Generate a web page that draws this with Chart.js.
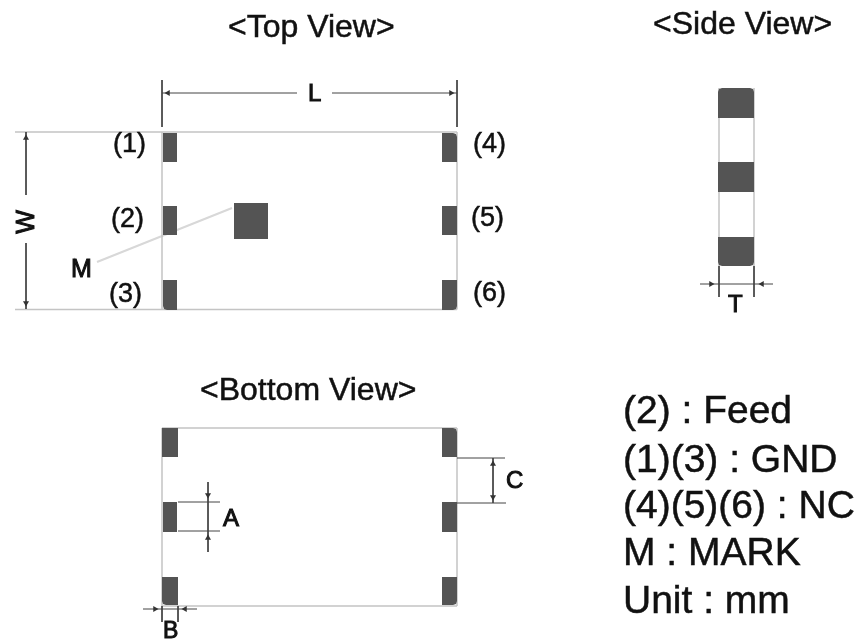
<!DOCTYPE html>
<html>
<head>
<meta charset="utf-8">
<title>Top, side and bottom view</title>
<script src="https://cdn.jsdelivr.net/npm/chart.js@4/dist/chart.umd.min.js"></script>
<style>
    html, body { margin: 0; padding: 0; background: #fff; }
    canvas { display: block; filter: blur(0.6px); }
</style>
</head>
<body>
<canvas id="drawing" width="860" height="641"></canvas>
<script>
// Outline of the parts: x1, y1, x2, y2
const outlineLines = [
    [15, 132, 457, 132], [15, 309.5, 457, 309.5], [162, 132, 162, 309.5], [457, 132, 457, 309.5],
    [162, 428, 457, 428], [162, 606, 457, 606], [162, 428, 162, 606], [457, 428, 457, 606],
    [719, 88, 719, 266], [754, 88, 754, 266]
];

// Dimension lines: x1, y1, x2, y2
const dimensionLines = [
    [162, 80, 162, 127], [457, 80, 457, 127], [162, 93, 297, 93], [332, 93, 457, 93],
    [26, 132, 26, 195], [26, 243, 26, 309],
    [178, 502, 220, 502], [178, 531, 220, 531], [208, 482, 208, 552],
    [457, 458, 505, 458], [457, 503, 506, 503], [493, 458, 493, 503],
    [143, 609, 197, 609], [162, 606, 162, 622], [178, 606, 178, 622],
    [719, 266, 719, 297], [754, 266, 754, 297], [700, 284, 773, 284]
];

const markLeader = [[97, 262, 232, 208]];

// Pads: x1, y1, x2, y2, rounded corners
const pads = [
    [163, 133, 177, 162, ''], [163, 206, 177, 235, ''], [163, 280, 177, 310, 'bl'],
    [442, 133, 457, 162, 'tr'], [442, 206, 457, 235, ''], [442, 280, 457, 310, 'br'],
    [234, 203, 268, 239, ''],
    [162, 428, 178, 457, ''], [163, 502, 177, 532, ''], [162, 577, 178, 605, 'bl'],
    [442, 428, 457, 457, 'tr'], [442, 502, 457, 532, ''], [442, 577, 457, 605, 'br'],
    [718, 88, 754, 118, 'tltr'], [718, 162, 754, 192, ''], [718, 237, 754, 266, 'blbr']
];

// Arrow heads: x, y, rotation
const arrowHeads = [
    [168, 93, -90], [451, 93, 90], [26, 138, 0], [26, 303, 180],
    [208, 495, 180], [208, 538, 0], [493, 464, 0], [493, 497, 180],
    [155, 609, 90], [185, 609, -90], [711, 284, 90], [762, 284, -90]
];

// Labels: text, left, baseline, font size
const titles = [
    ['<Top View>', 228, 37, 32], ['<Side View>', 653, 34, 32], ['<Bottom View>', 200, 400, 32]
];
const pinLabels = [
    ['(1)', 113, 152, 27], ['(2)', 111, 227, 27], ['(3)', 109, 302, 27],
    ['(4)', 473, 152, 27], ['(5)', 471, 226, 27], ['(6)', 473, 301, 27]
];
const dimensionLabels = [
    ['L', 308, 101, 24], ['M', 71, 277, 25], ['A', 223, 526, 24],
    ['C', 506, 488, 24], ['B', 163, 638, 23], ['T', 728, 312, 24]
];
const legendLines = [
    ['(2) : Feed', 623, 423, 39], ['(1)(3) : GND', 623, 472, 39], ['(4)(5)(6) : NC', 623, 518, 39],
    ['M : MARK', 623, 565, 39], ['Unit : mm', 623, 613, 39]
];
const rotatedLabels = [['W', 27, 222, 25]];

// Join segments into one dataset, a null point breaks the line
function segmentPoints(segments) {
    return segments.flatMap(s => [{x: s[0], y: s[1]}, {x: s[2], y: s[3]}, {x: s[2], y: null}]);
}

// Corner outline of a pad, cut a little where it is rounded
function padPoints(pad) {
    const [x1, y1, x2, y2, round] = pad;
    const c = 4;
    const points = [];
    if (round.includes('tl')) { points.push({x: x1, y: y1 + c}, {x: x1 + 1, y: y1 + 1}, {x: x1 + c, y: y1}); } else { points.push({x: x1, y: y1}); }
    if (round.includes('tr')) { points.push({x: x2 - c, y: y1}, {x: x2 - 1, y: y1 + 1}, {x: x2, y: y1 + c}); } else { points.push({x: x2, y: y1}); }
    if (round.includes('br')) { points.push({x: x2, y: y2 - c}, {x: x2 - 1, y: y2 - 1}, {x: x2 - c, y: y2}); } else { points.push({x: x2, y: y2}); }
    if (round.includes('bl')) { points.push({x: x1 + c, y: y2}, {x: x1 + 1, y: y2 - 1}, {x: x1, y: y2 - c}); } else { points.push({x: x1, y: y2}); }
    points.push(points[0]);
    return points;
}

function lineDataset(segments, color, width) {
    return {
        data: segmentPoints(segments),
        showLine: true,
        spanGaps: false,
        borderColor: color,
        borderWidth: width,
        pointRadius: 0
    };
}

const padDatasets = pads.map(pad => ({
    data: padPoints(pad),
    showLine: true,
    fill: 'shape',
    backgroundColor: '#545454',
    borderColor: '#545454',
    borderWidth: 0,
    pointRadius: 0
}));

const arrowDataset = {
    data: arrowHeads.map(a => ({x: a[0], y: a[1]})),
    showLine: false,
    pointStyle: 'triangle',
    pointRadius: 3.5,
    pointRotation: arrowHeads.map(a => a[2]),
    backgroundColor: '#333',
    borderColor: '#333',
    borderWidth: 0
};

// Writes the labels through the chart scales
const labelPlugin = {
    id: 'labelPlugin',
    afterDraw(chart) {
        const ctx = chart.ctx;
        const xScale = chart.scales.x;
        const yScale = chart.scales.y;
        const writeLabels = (labels, weight) => {
            ctx.lineWidth = weight;
            labels.forEach(item => {
                ctx.font = item[3] + 'px "Liberation Sans"';
                ctx.fillText(item[0], xScale.getPixelForValue(item[1]), yScale.getPixelForValue(item[2]));
                ctx.strokeText(item[0], xScale.getPixelForValue(item[1]), yScale.getPixelForValue(item[2]));
            });
        };
        ctx.save();
        ctx.fillStyle = '#111';
        ctx.strokeStyle = '#111';
        ctx.textBaseline = 'alphabetic';
        ctx.textAlign = 'left';
        writeLabels([...titles, ...pinLabels, ...legendLines], 0.5);
        writeLabels(dimensionLabels, 1);
        rotatedLabels.forEach(item => {
            ctx.save();
            ctx.translate(xScale.getPixelForValue(item[1]), yScale.getPixelForValue(item[2]));
            ctx.rotate(-Math.PI / 2);
            ctx.font = item[3] + 'px "Liberation Sans"';
            ctx.textAlign = 'center';
            ctx.textBaseline = 'middle';
            ctx.fillText(item[0], 0, 0);
            ctx.strokeText(item[0], 0, 0);
            ctx.restore();
        });
        ctx.restore();
    }
};

new Chart(document.getElementById('drawing').getContext('2d'), {
    type: 'scatter',
    data: {
        datasets: [
            ...padDatasets,
            arrowDataset,
            lineDataset(dimensionLines, '#444', 1),
            lineDataset(outlineLines, '#c4c4c4', 1.5),
            lineDataset(markLeader, '#d8d8d8', 2)
        ]
    },
    options: {
        responsive: false,
        animation: false,
        layout: { padding: 0, autoPadding: false },
        plugins: {
            legend: { display: false },
            tooltip: { enabled: false }
        },
        scales: {
            x: { type: 'linear', min: 0, max: 860, display: false },
            y: { type: 'linear', min: 0, max: 641, reverse: true, display: false }
        }
    },
    plugins: [labelPlugin]
});
</script>
</body>
</html>
